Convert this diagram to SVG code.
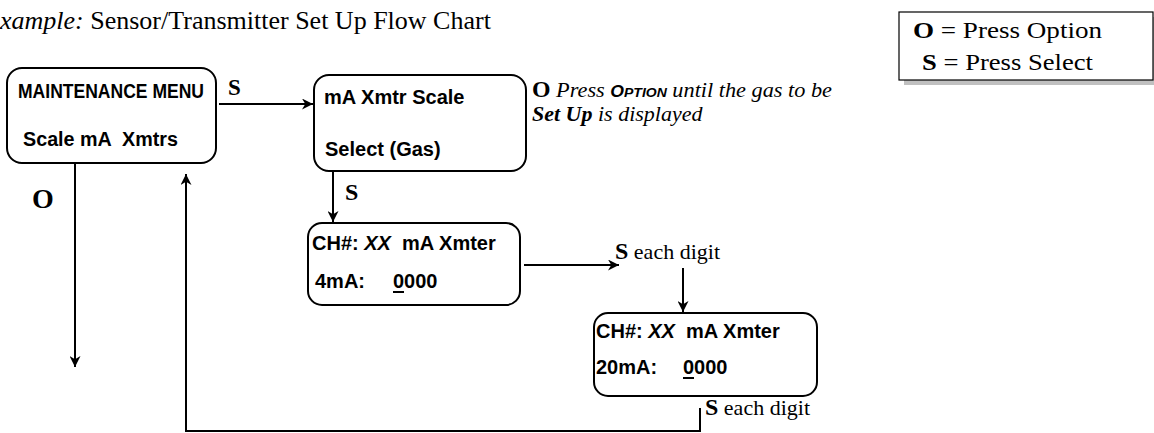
<svg xmlns="http://www.w3.org/2000/svg" width="1154" height="433" viewBox="0 0 1154 433">
<defs>
<style>
.box{fill:#fff;stroke:#000;stroke-width:2}
.lcd{font-family:"Liberation Sans",Arial,sans-serif;font-weight:bold;font-size:20px;fill:#000}
.ser{font-family:"Liberation Serif","Times New Roman",serif;fill:#000}
.b{font-weight:bold}
.i{font-style:italic}
.conn{fill:none;stroke:#000;stroke-width:2}
</style>
<marker id="ah" viewBox="0 0 10 10" refX="10" refY="5" markerWidth="11" markerHeight="11" markerUnits="userSpaceOnUse" orient="auto">
<path d="M0,0 L10,5 L0,10 L3,5 Z" fill="#000"/>
</marker>
</defs>
<rect width="1154" height="433" fill="#fff"/>

<text class="ser" x="0" y="29" font-size="26" xml:space="preserve"><tspan class="i">xample:</tspan> Sensor/Transmitter Set Up Flow Chart</text>

<g id="legend">
<rect x="904" y="17" width="254" height="68" fill="#c0c0c0"/>
<rect x="899" y="12" width="254" height="68" fill="#fff" stroke="#000" stroke-width="1.2"/>
<text class="ser" x="913" y="38" font-size="24" textLength="189" lengthAdjust="spacingAndGlyphs"><tspan class="b">O</tspan> = Press Option</text>
<text class="ser" x="922" y="70" font-size="24" textLength="171" lengthAdjust="spacingAndGlyphs"><tspan class="b">S</tspan> = Press Select</text>
</g>

<g id="maintenance-menu">
<rect class="box" x="7" y="68" width="209" height="95" rx="15"/>
<text class="lcd" x="18" y="98" font-size="18" textLength="186" lengthAdjust="spacingAndGlyphs">MAINTENANCE  MENU</text>
<text class="lcd" x="23" y="146" xml:space="preserve" textLength="155" lengthAdjust="spacingAndGlyphs">Scale mA  Xmtrs</text>
</g>

<g id="mA-xmtr-scale">
<rect class="box" x="314" y="75" width="212" height="96" rx="15"/>
<text class="lcd" x="324" y="104">mA Xmtr Scale</text>
<text class="lcd" x="325" y="156">Select (Gas)</text>
</g>

<g id="option-note">
<text class="ser" x="532" y="97" font-size="21.5" textLength="300" lengthAdjust="spacingAndGlyphs"><tspan class="b" font-size="23">O</tspan> <tspan class="i">Press </tspan><tspan font-family="'Liberation Sans',Arial,sans-serif" font-weight="bold" font-style="italic" font-size="17">O<tspan font-size="13.5">PTION</tspan></tspan><tspan class="i"> until the gas to be</tspan></text>
<text class="ser" x="532" y="121" font-size="22"><tspan class="b i">Set Up</tspan><tspan class="i"> is displayed</tspan></text>
</g>

<g id="ch-4mA">
<rect class="box" x="308" y="223" width="212" height="82" rx="14"/>
<text class="lcd" x="312" y="250" xml:space="preserve">CH#: <tspan font-style="italic">XX</tspan>  mA Xmter</text>
<text class="lcd" x="315" y="288">4mA:</text>
<text class="lcd" x="393" y="288">0000</text>
<line x1="393" y1="292" x2="404" y2="292" stroke="#000" stroke-width="2"/>
</g>

<g id="ch-20mA">
<rect class="box" x="594" y="313" width="223" height="83" rx="14"/>
<text class="lcd" x="596" y="338" xml:space="preserve">CH#: <tspan font-style="italic">XX</tspan>  mA Xmter</text>
<text class="lcd" x="596" y="374">20mA:</text>
<text class="lcd" x="683" y="374">0000</text>
<line x1="683" y1="378" x2="694" y2="378" stroke="#000" stroke-width="2"/>
</g>

<g id="connectors">
<line class="conn" x1="219" y1="104" x2="313" y2="104" marker-end="url(#ah)"/>
<line class="conn" x1="333" y1="172" x2="333" y2="222" marker-end="url(#ah)"/>
<line class="conn" x1="524" y1="265" x2="619" y2="265" marker-end="url(#ah)"/>
<line class="conn" x1="683" y1="268" x2="683" y2="312" marker-end="url(#ah)"/>
<line class="conn" x1="75" y1="164" x2="75" y2="367" marker-end="url(#ah)"/>
<polyline class="conn" points="700,408 700,431 186,431 186,174" marker-end="url(#ah)"/>
</g>

<g id="labels">
<text class="ser b" x="228" y="95" font-size="23">S</text>
<text class="ser b" x="32" y="208" font-size="28">O</text>
<text class="ser b" x="345" y="200" font-size="24">S</text>
<text class="ser" x="615" y="259" font-size="22"><tspan class="b" font-size="24">S</tspan> each digit</text>
<text class="ser" x="705" y="415" font-size="22"><tspan class="b" font-size="24">S</tspan> each digit</text>
</g>
</svg>
